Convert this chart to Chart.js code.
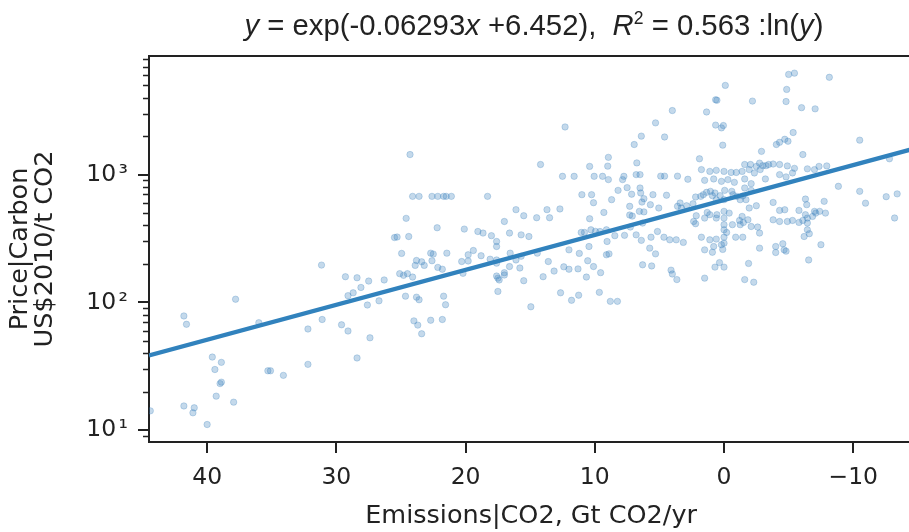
<!DOCTYPE html>
<html><head><meta charset="utf-8">
<script src="https://cdn.jsdelivr.net/npm/chart.js@4.4.0/dist/chart.umd.min.js"></script>
<style>
html,body{margin:0;padding:0;background:#fff;overflow:hidden;}
#wrap{position:relative;width:909px;height:532px;overflow:hidden;}
#title{position:absolute;top:10.4px;left:534px;transform:translateX(-50%);white-space:pre;font-family:"Liberation Sans",Arial,sans-serif;font-size:29.3px;line-height:29.3px;color:#222;}
#title .sup{font-size:17.5px;position:relative;top:-11px;}
canvas{position:absolute;left:0;top:0;}
</style></head><body>
<div id="wrap"><canvas id="c" width="918" height="532"></canvas>
<div id="title"><i>y</i> = exp(-0.06293<i>x</i> +6.452),  <i>R</i><span class="sup">2</span> = 0.563 :ln(<i>y</i>)</div></div>
<script>
// ---- data ----
const emissions = [
24.3,24.1,23.6,22.6,22.15,21.7,21.5,21.1,18.3,24.6,22.2,24.4,25.5,25.3,24.95,22.7,22.5,21.45,23.8,23.4,
23.2,23.9,22.6,22.15,21.8,31.15,25.1,24.5,24.1,24.8,29.3,28.4,27.5,26.3,28.1,29.1,28.7,24.65,23.8,23.6,
21.7,37.8,27.6,26.7,41.8,41.6,36.0,31.1,29.6,29.1,24.0,23.7,23.4,22.7,21.8,21.55,32.2,27.4,39.6,38.9,
39.4,39.0,38.9,35.3,35.1,34.1,32.2,28.4,39.3,37.95,41.8,41.0,41.1,44.4,40.0,20.1,19.05,18.65,18.0,17.6,
17.6,17.0,19.8,19.4,18.8,18.1,17.6,19.8,20.3,17.6,17.5,17.0,17.5,20.2,17.4,17.6,17.0,16.55,16.1,15.8,
16.6,15.7,15.5,14.95,
12.3,5.3,14.2,10.4,8.95,9.0,6.75,6.4,6.95,12.5,11.6,10.05,9.4,8.95,7.85,7.75,6.8,6.5,11.0,10.25,
10.1,8.7,8.2,7.5,7.15,6.5,6.45,6.2,6.35,5.5,16.1,15.5,14.5,13.7,13.5,12.7,10.4,9.3,7.3,7.1,
7.3,6.55,6.2,6.3,5.7,16.6,15.7,15.1,11.05,10.8,10.3,9.95,9.6,9.1,10.45,9.05,12.0,11.2,8.45,7.7,
7.25,6.8,6.4,5.65,5.75,5.3,6.3,5.6,8.9,9.1,14.45,13.6,13.15,14.0,12.4,12.0,11.3,10.55,10.1,9.55,
10.65,12.65,11.8,11.25,9.65,8.8,8.25,
-5.0,-5.45,-8.15,-0.1,-4.85,-4.8,0.65,0.55,-2.2,4.0,1.35,-6.0,-7.05,4.6,0.65,0.2,0.05,0.1,-4.05,-4.3,
-4.7,-4.95,-5.35,-2.9,-6.1,-10.5,1.9,-12.8,1.75,1.1,0.6,0.0,-0.55,-0.95,-1.4,-1.95,-2.05,-1.6,-2.5,-2.75,
-3.0,-3.25,-3.45,-3.8,-4.3,-2.35,-2.8,-4.9,-5.45,-6.45,-7.0,-7.35,-7.95,4.9,4.6,3.6,2.8,1.5,0.8,0.2,
-0.3,-0.8,-1.6,-2.1,-3.2,-4.3,-4.8,-5.3,4.45,2.2,1.8,1.35,1.05,0.7,0.3,-0.05,-0.6,-1.0,-1.45,-1.6,
-2.1,-3.8,-4.7,-6.3,-6.4,-7.4,-7.85,-7.75,-8.85,-10.5,-10.95,-12.55,-13.4,-13.2,5.05,3.6,3.3,2.4,2.15,1.3,
0.55,0.0,-0.4,-1.4,-1.85,-3.8,-4.3,-4.9,-5.8,-6.45,-7.1,-6.85,3.4,2.9,1.6,0.9,0.6,0.0,-0.7,-1.25,
-1.7,-1.95,-2.5,2.35,2.2,1.5,1.1,0.6,0.0,0.0,-0.65,-1.25,-1.5,-1.2,-2.1,-2.6,-5.3,-5.8,-6.1,-6.3,
5.15,4.65,4.2,3.7,3.15,1.75,1.1,0.6,0.0,0.0,0.0,-0.2,-0.9,-1.45,1.5,0.8,0.2,-2.75,-4.0,-4.65,
-4.55,-4.8,4.1,4.0,3.65,1.5,0.7,0.35,0.0,-1.9,-1.6,-2.3,-6.6,-6.2,-7.5,-6.55,-7.0,-6.45,-6.45,-4.3,
-2.75,-4.0,0.9,0.1
];
const price = [
1435,676,676,676,676,676,676,676,676,455,384,328,322,325,242,243,239,243,213,208,
195,195,212,188,182,196,168,168,158,163,159,156,147,150,131,113,119,112,110,105,
112,106,95.5,103,78.4,67.5,69.4,73.6,66.9,59.8,71.8,66.5,56.9,72.6,73.6,96,62,52.9,37.4,34.0,
29.9,23.2,23.8,29.2,29.2,26.9,32.8,36.8,18.5,16.6,15.5,15.0,13.7,14.2,11.1,375,359,349,333,300,
274,430,236,255,232,218,215,211,209,161,155,164,122,169,150,203,171,243,215,186,
191,230,148,92.5,
2360,2540,1200,1160,1365,1165,1235,2000,1720,970,970,970,970,914,914,970,1000,1000,697,697,
603,637,753,791,703,786,719,648,610,697,532,477,460,532,460,539,452,506,565,474,
483,516,511,418,582,349,338,328,353,353,370,360,359,370,274,300,258,242,333,335,
389,338,306,324,266,240,197,193,240,236,243,209,176,159,190,182,183,212,191,171,
158,119,104,114,120,102,102,
6080,6220,5770,4990,4640,3730,3850,3820,3760,3170,3090,3340,3270,1970,2440,2320,2420,1700,1720,1790,
1890,1825,2135,1520,1435,1860,1330,1330,1095,1060,1080,1060,1040,1040,1060,1095,1200,1200,1160,1230,
1175,1175,1200,1210,1200,1030,1095,1170,1120,1110,1095,1160,1170,973,973,973,920,902,925,886,
914,870,925,850,925,1000,960,1031,690,668,676,727,740,718,685,753,740,676,681,786,
753,606,531,644,582,516,500,618,810,740,598,672,707,458,548,565,548,592,477,506,
486,516,500,471,443,443,430,430,423,418,500,471,600,571,697,685,637,637,697,637,
637,548,571,430,413,457,486,457,457,406,406,406,422,438,393,389,438,525,438,486,
359,324,309,309,295,324,309,313,370,324,291,353,324,324,258,274,283,266,246,258,
288,252,179,167,151,155,189,205,189,202,151,144,345,328,283,215,516,457,370,525,
349,274,247,260
];
// fitted line end points
const fitX = [44.5, -14.64];
const fitY = [38.5, 1590];
// axes
const xMin = -14.64, xMax = 44.5;
const yMin = 8.1, yMax = 8470;
const xTickValues = [40, 30, 20, 10, 0, -10];
const xTickLabels = ['40', '30', '20', '10', '0', '\u221210'];
const yTickValues = [10, 100, 1000];
const yTickLabels = ['10\u200a\u00b9', '10\u200a\u00b2', '10\u200a\u00b3'];
const yMinorTicks = [9, 20, 30, 40, 50, 60, 70, 80, 90, 200, 300, 400, 500, 600, 700, 800, 900, 2000, 3000, 4000, 5000, 6000, 7000, 8000];
const xTitle = 'Emissions|CO2, Gt CO2/yr';
const yTitle = ['Price|Carbon', 'US$2010/t CO2'];

const INK = '#222';
const FONT = '"DejaVu Sans", sans-serif';

const spinesPlugin = {
  id: 'spines',
  afterDraw(chart) {
    const {ctx, chartArea} = chart;
    const ys = chart.scales.y;
    ctx.save();
    ctx.strokeStyle = INK;
    ctx.lineWidth = 2;
    ctx.beginPath();
    ctx.moveTo(chartArea.left - 1, chartArea.top);
    ctx.lineTo(chartArea.right, chartArea.top);
    ctx.stroke();
    ctx.lineWidth = 1.6;
    ctx.beginPath();
    yMinorTicks.forEach(v => {
      const p = Math.round(ys.getPixelForValue(v)) + 0.5;
      ctx.moveTo(chartArea.left - 6, p);
      ctx.lineTo(chartArea.left, p);
    });
    ctx.stroke();
    ctx.restore();
  }
};

const points = emissions.map((x, i) => ({x: x, y: price[i]}));
const fitLine = fitX.map((x, i) => ({x: x, y: fitY[i]}));

new Chart(document.getElementById('c'), {
  type: 'scatter',
  data: {
    datasets: [
      {
        data: fitLine, showLine: true, pointRadius: 0, borderColor: 'rgb(49,130,189)',
        borderWidth: 4.2, fill: false
      },
      {
        data: points, pointRadius: 3.2, pointBackgroundColor: 'rgba(60,128,190,0.3)',
        pointBorderColor: 'rgba(60,128,190,0.34)', pointBorderWidth: 0.8
      }
    ]
  },
  options: {
    responsive: false,
    devicePixelRatio: 1,
    animation: false,
    layout: {padding: {top: 56, left: 0, right: 0, bottom: 0}},
    plugins: {legend: {display: false}, tooltip: {enabled: false}, title: {display: false}},
    scales: {
      x: {
        type: 'linear', min: xMin, max: xMax, reverse: true,
        afterBuildTicks: s => { s.ticks = xTickValues.map(v => ({value: v})); },
        afterFit: s => { s.height = 90; s.paddingLeft = 0; s.paddingRight = 0; },
        ticks: {
          callback: (v, i) => xTickLabels[i], color: INK, padding: 11, maxRotation: 0, autoSkip: false,
          font: {family: FONT, size: 23.5}
        },
        grid: {drawOnChartArea: false, tickLength: 11, lineWidth: 2, color: INK},
        border: {display: true, width: 2, color: INK},
        title: {display: true, text: xTitle, color: INK, font: {family: FONT, size: 25.5}, padding: {top: 0, bottom: 0}}
      },
      y: {
        type: 'logarithmic', min: yMin, max: yMax,
        afterBuildTicks: s => { s.ticks = yTickValues.map(v => ({value: v, major: true})); },
        afterFit: s => { s.width = 149; s.paddingTop = 0; s.paddingBottom = 0; },
        ticks: {
          callback: (v, i) => yTickLabels[i], color: INK, padding: 10, autoSkip: false,
          font: {family: FONT, size: 23.5}
        },
        grid: {drawOnChartArea: false, tickLength: 11, lineWidth: 2, color: INK},
        border: {display: true, width: 2, color: INK},
        title: {display: true, text: yTitle, color: INK, font: {family: FONT, size: 25.5, lineHeight: '25px'}, padding: {top: 8, bottom: 0}}
      }
    }
  },
  plugins: [spinesPlugin]
});
</script>
</body></html>
